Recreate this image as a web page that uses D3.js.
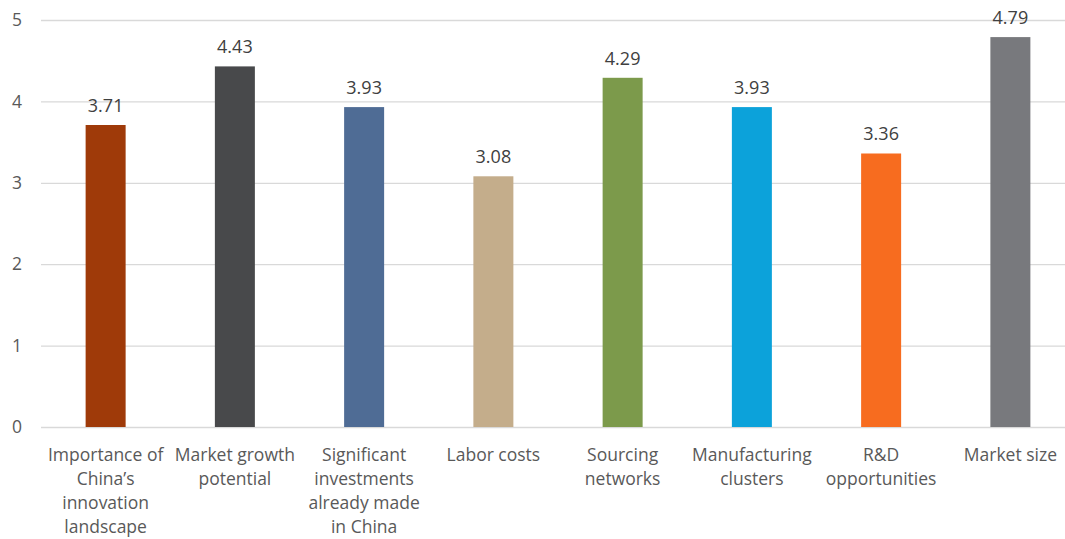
<!DOCTYPE html>
<html>
<head>
<meta charset="utf-8">
<script src="https://cdn.jsdelivr.net/npm/d3@7"></script>
<style>
  html, body { margin: 0; padding: 0; background: #fff; }
  svg { display: block; font-family: "Open Sans", "Noto Sans", sans-serif; }
</style>
</head>
<body>
<svg id="chart" width="1065" height="539"></svg>
<script>
// Reasons for staying in China, average rating (0–5)
const categories = [
  ["Importance of", "China\u2019s", "innovation", "landscape"],
  ["Market growth", "potential"],
  ["Significant", "investments", "already made", "in China"],
  ["Labor costs"],
  ["Sourcing", "networks"],
  ["Manufacturing", "clusters"],
  ["R&D", "opportunities"],
  ["Market size"]
];
const values = [3.71, 4.43, 3.93, 3.08, 4.29, 3.93, 3.36, 4.79];
const colors = ["#9F3A09", "#48494B", "#4F6C95", "#C4AD8B", "#7C9A4B", "#0CA2DA", "#F76C1F", "#78797D"];
const yTicks = [0, 1, 2, 3, 4, 5];

const svg = d3.select("#chart");
const margin = { left: 41, top: 20, bottom: 112 };
const plotRight = 1075;
const height = 539;

const x = d3.scaleBand()
  .domain(d3.range(categories.length))
  .range([margin.left, plotRight])
  .paddingInner(0)
  .paddingOuter(0);

const y = d3.scaleLinear()
  .domain([0, 5])
  .range([height - margin.bottom, margin.top]);

// Horizontal gridlines
svg.append("g")
  .selectAll("line")
  .data(yTicks)
  .join("line")
  .attr("x1", margin.left)
  .attr("x2", plotRight)
  .attr("y1", d => y(d) + 0.5)
  .attr("y2", d => y(d) + 0.5)
  .attr("stroke", "#D9D9D9")
  .attr("stroke-width", 1.3);

// Y axis labels
const yAxis = d3.axisLeft(y).tickValues(yTicks).tickSize(0).tickPadding(0).tickFormat(d3.format("d"));
svg.append("g")
  .attr("transform", `translate(${margin.left - 19},0)`)
  .call(yAxis)
  .call(g => g.select(".domain").remove())
  .call(g => g.selectAll("text")
    .attr("fill", "#595959")
    .attr("font-size", 17.5)
    .attr("font-family", "'Open Sans', sans-serif"));

// Bars
const barW = 40;
svg.append("g")
  .selectAll("rect")
  .data(values)
  .join("rect")
  .attr("x", (d, i) => x(i) + x.bandwidth() / 2 - barW / 2)
  .attr("width", barW)
  .attr("y", d => y(d))
  .attr("height", d => y(0) - y(d))
  .attr("fill", (d, i) => colors[i]);

// Value labels
svg.append("g")
  .selectAll("text")
  .data(values)
  .join("text")
  .attr("x", (d, i) => x(i) + x.bandwidth() / 2)
  .attr("y", d => y(d) - 13)
  .attr("text-anchor", "middle")
  .attr("fill", "#404040")
  .attr("font-size", 18)
  .text(d => d.toFixed(2));

// Category labels (wrapped)
const catG = svg.append("g");
categories.forEach((lines, i) => {
  const t = catG.append("text")
    .attr("x", x(i) + x.bandwidth() / 2)
    .attr("y", y(0) + 34)
    .attr("text-anchor", "middle")
    .attr("fill", "#595959")
    .attr("font-size", 17.5);
  lines.forEach((ln, j) => {
    t.append("tspan")
      .attr("x", x(i) + x.bandwidth() / 2)
      .attr("dy", j === 0 ? 0 : 24)
      .text(ln);
  });
});
</script>
</body>
</html>
